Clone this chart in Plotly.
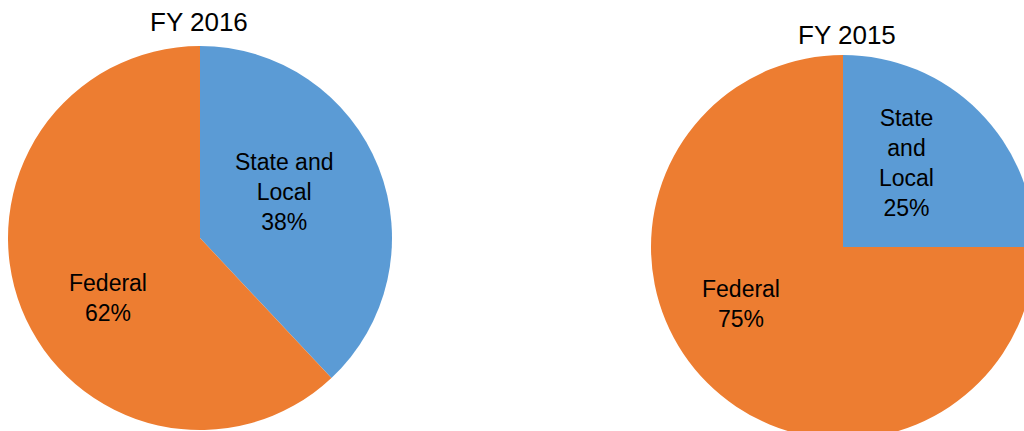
import plotly.graph_objects as go

labels = ["State and Local", "Federal"]
fy2016_values = [38, 62]
fy2015_values = [25, 75]
fy2016_text = ["State and<br>Local<br>38%", "Federal<br>62%"]
fy2015_text = ["State<br>and<br>Local<br>25%", "Federal<br>75%"]
titles = ["FY 2016", "FY 2015"]
colors = ["#5B9BD5", "#ED7D31"]

# label placement (pixel positions of label centres)
fy2016_label_pos = [(284, 192), (108, 298)]
fy2015_label_pos = [(906, 163), (741, 304)]
title_pos = [(199, 22), (847, 35)]

W, H = 1040, 440
FONT = "Liberation Sans, Arial, sans-serif"


def dom(x0, x1, top, bottom):
    return dict(x=[x0 / W, x1 / W], y=[(H - bottom) / H, (H - top) / H])


def px(x, y):
    return x / W, (H - y) / H


fig = go.Figure()
for vals, d in ((fy2016_values, dom(8, 392, 46, 430)), (fy2015_values, dom(651, 1035, 55, 439))):
    fig.add_trace(go.Pie(
        labels=labels, values=vals, textinfo="none",
        sort=False, direction="clockwise", rotation=0,
        marker=dict(colors=colors, line=dict(width=0)),
        domain=d, showlegend=False, hoverinfo="label+percent",
    ))

for texts, poss in ((fy2016_text, fy2016_label_pos), (fy2015_text, fy2015_label_pos)):
    for t, (x, y) in zip(texts, poss):
        ax, ay = px(x, y)
        fig.add_annotation(text=t, x=ax, y=ay, xref="paper", yref="paper",
                           showarrow=False, xanchor="center", yanchor="middle",
                           font=dict(family=FONT, size=23, color="black"))

for t, (x, y) in zip(titles, title_pos):
    ax, ay = px(x, y)
    fig.add_annotation(text=t, x=ax, y=ay, xref="paper", yref="paper",
                       showarrow=False, xanchor="center", yanchor="middle",
                       font=dict(family=FONT, size=26, color="black"))

fig.update_layout(width=W, height=H, margin=dict(l=0, r=0, t=0, b=0),
                  paper_bgcolor="white", plot_bgcolor="white")

fig.write_html("out.html", config={"displayModeBar": False},
               post_script="document.documentElement.style.overflow='hidden';document.body.style.overflow='hidden';document.body.style.margin='0';")
